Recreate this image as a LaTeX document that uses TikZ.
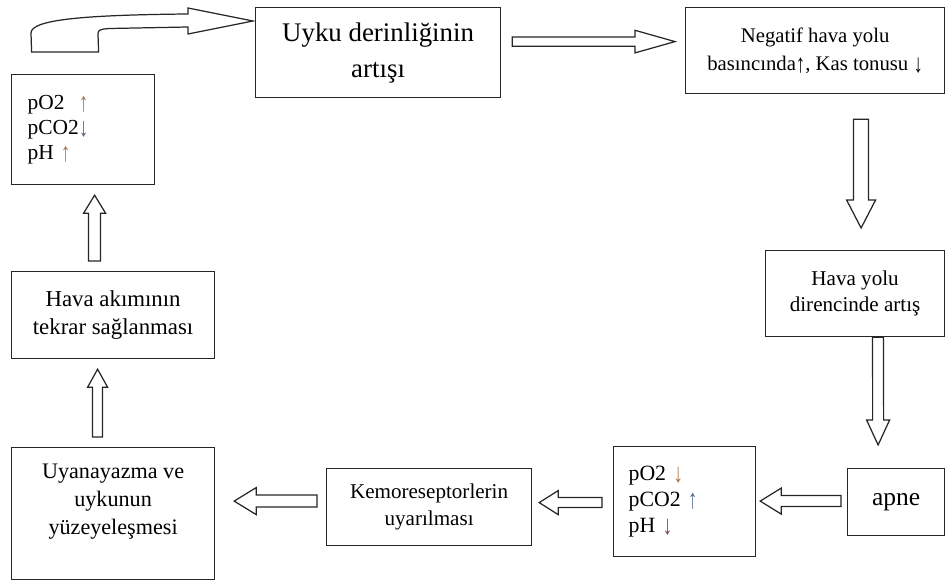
\documentclass[tikz,border=0pt]{standalone}
\usepackage{fontspec}
\setmainfont{Liberation Serif}
\usepackage{xcolor}
\usepackage{graphicx}
\usepackage{tikz}
\usetikzlibrary{calc}

\definecolor{uparr}{RGB}{165,115,75}
\definecolor{downarr}{RGB}{85,95,120}
\definecolor{bluearr}{RGB}{80,105,145}
\definecolor{purparr}{RGB}{135,55,95}
\newcommand{\setfs}[2]{\fontsize{#1}{#2}\selectfont}
% tall thin arrows as in the scanned text
\newcommand{\uar}[1][black]{\textcolor{#1}{\smash{\raisebox{-0.1em}{\scalebox{0.9}[1.25]{↑}}}}}
\newcommand{\dar}[1][black]{\textcolor{#1}{\smash{\raisebox{-0.1em}{\scalebox{0.9}[1.25]{↓}}}}}

% hollow block arrow: from, to, shaft half width, head half width, head length
\newcommand{\blockarrow}[5]{%
  \coordinate (ba-s) at #1;
  \coordinate (ba-t) at #2;
  \coordinate (ba-h) at ($(ba-t)!#5!(ba-s)$);
  \draw[hollow] ($(ba-s)!#3!90:(ba-t)$) -- ($(ba-h)!#3!90:(ba-t)$)
    -- ($(ba-h)!#4!90:(ba-t)$) -- (ba-t) -- ($(ba-h)!#4!-90:(ba-t)$)
    -- ($(ba-h)!#3!-90:(ba-t)$) -- ($(ba-s)!#3!-90:(ba-t)$) -- cycle;
}

\begin{document}
\begin{tikzpicture}[x=0.02cm,y=-0.02cm,
    box/.style={draw=black!85,line width=0.7pt,anchor=north west,inner sep=0pt,align=center,
                font=\setfs{12.4}{15.5}},
    lbox/.style={box,align=left,inner xsep=0.3cm},
    hollow/.style={draw=black!85,line width=0.7pt,fill=white,line join=miter}]
  \useasboundingbox (0,0) rectangle (946,580);
  % ── Boxes ──────────────────────────────────────────
  \node[box,minimum width=4.90cm,minimum height=1.80cm,font=\setfs{15.3}{20.5}] (A) at (255,7)
    {Uyku derinliğinin\\artışı};
  \node[box,minimum width=5.18cm,minimum height=1.72cm,font=\setfs{11.8}{16}] (B) at (685,7)
    {Negatif hava yolu\\basıncında\uar, Kas tonusu \dar};
  \node[box,minimum width=3.58cm,minimum height=1.72cm,font=\setfs{12}{14.5}] (C) at (765,250)
    {Hava yolu\\direncinde artış};
  \node[box,minimum width=1.94cm,minimum height=1.34cm,font=\setfs{14.5}{17}] (D) at (847,468)
    {apne};
  \node[lbox,minimum width=2.84cm,minimum height=2.20cm,text width=2.24cm,font=\setfs{12.4}{14.7}] (E) at (613,446)
    {pO2 \dar[uparr]\\pCO2 \uar[bluearr]\\pH \dar[purparr]};
  \node[box,minimum width=4.10cm,minimum height=1.54cm,font=\setfs{12}{15.3}] (F) at (326,468)
    {Kemoreseptorlerin\\uyarılması};
  \node[box,minimum width=4.06cm,minimum height=2.64cm,font=\setfs{12.6}{16}] (G) at (11,447)
    {Uyanayazma ve\\uykunun\\yüzeyeleşmesi\\~};
  \node[box,minimum width=4.06cm,minimum height=1.74cm,font=\setfs{13}{16}] (H) at (11,271)
    {Hava akımının\\tekrar sağlanması};
  \node[lbox,minimum width=2.86cm,minimum height=2.20cm,text width=2.22cm,font=\setfs{12.2}{14.3}] (I) at (11,74)
    {pO2 \ \uar[uparr]\\pCO2\dar[downarr]\\pH \uar[uparr]};
  % ── Block arrows (box edge to box edge) ────────────
  \blockarrow{($(A.east)+(11,-11)$)}{($(B.west)+(-10,-9)$)}{0.094cm}{0.226cm}{0.80cm}
  \blockarrow{($(B.south)+(46,25)$)}{($(C.north)+(6,-22)$)}{0.15cm}{0.29cm}{0.56cm}
  \blockarrow{($(C.south)+(23,0)$)}{($(D.north)+(-18,-23)$)}{0.11cm}{0.23cm}{0.50cm}
  \blockarrow{($(D.west)+(-6,-1)$)}{($(E.east)+(4,-0.5)$)}{0.11cm}{0.26cm}{0.42cm}
  \blockarrow{($(E.west)+(-11,1)$)}{($(F.east)+(7,-4.5)$)}{0.10cm}{0.24cm}{0.38cm}
  \blockarrow{($(F.west)+(-9,-6)$)}{($(G.east)+(19,-12.5)$)}{0.12cm}{0.27cm}{0.44cm}
  \blockarrow{($(G.north)+(-15.5,-10)$)}{($(H.south)+(-15.5,10)$)}{0.10cm}{0.20cm}{0.36cm}
  \blockarrow{($(H.north)+(-18.5,-10)$)}{($(I.south)+(11.5,10)$)}{0.12cm}{0.22cm}{0.36cm}
  % ── Bent arrow: top of pO2 box round to the left of A ──
  \coordinate (ctip) at ($(A.north west)+(-2,14)$);
  \draw[hollow] ($(I.north)+(-51.5,-22)$) -- (31,33)
    .. controls (31,20) and (80,15) .. (188,14) -- (188,8) -- (ctip) -- (188,34) -- (188,27)
    -- (110,28.5) .. controls (100,29) and (98,30) .. (98,34) -- ($(I.north)+(15.5,-22)$) -- cycle;
\end{tikzpicture}
\end{document}
